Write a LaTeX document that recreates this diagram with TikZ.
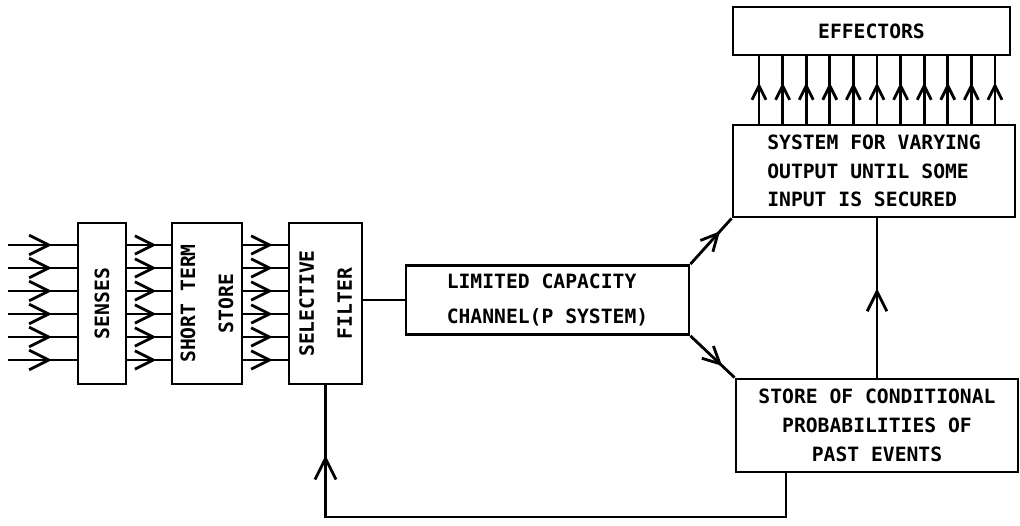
\documentclass[tikz,border=0pt]{standalone}
\usepackage{fontspec}
\setmonofont{DejaVu Sans Mono}
\usetikzlibrary{arrows.meta,positioning,decorations.markings}

\begin{document}
\begin{tikzpicture}[
    x=0.025cm,
    y=-0.025cm,
    line width=2pt,
    box/.style={draw, inner sep=0pt, align=center,
        font=\ttfamily\bfseries\fontsize{14}{20.5}\selectfont},
    vtxt/.style={rotate=90, inner sep=0pt, align=center,
        font=\ttfamily\bfseries\fontsize{14}{27}\selectfont},
    flow/.style 2 args={postaction={decorate}, decoration={markings,
        mark=at position #1 with {\arrow{Straight Barb[length=#2,width=#2]}}}}
]
\useasboundingbox (0,0) rectangle (1020,526);

% boxes on the left
\node[box, minimum width=1.2cm, minimum height=4.025cm] (senses) at (102,303.5) {};
\node[vtxt] (sensestxt) at (senses.center) {SENSES};
\node[box, minimum width=1.75cm, minimum height=4.025cm] (sts) at (207,303.5) {};
\node[vtxt] (ststxt) at (sts.center) {SHORT TERM\\STORE};
\node[box, minimum width=1.825cm, minimum height=4.025cm] (filter) at (325.5,303.5) {};
\node[vtxt] (filtertxt) at (filter.center) {SELECTIVE\\FILTER};

% channel and right column
\node[box, align=left, minimum width=7.075cm, minimum height=1.725cm,
    font=\ttfamily\bfseries\fontsize{14}{25.5}\selectfont] (lcc) at (547.5,300)
    {LIMITED CAPACITY\\CHANNEL(P SYSTEM)};
\node[box, minimum width=6.925cm, minimum height=1.2cm] (effectors) at (871.5,31) {EFFECTORS};
\node[box, align=left, minimum width=7.05cm, minimum height=2.3cm] (system) at (874,171)
    {SYSTEM FOR VARYING\\OUTPUT UNTIL SOME\\INPUT IS SECURED};
\node[box, minimum width=7.05cm, minimum height=2.325cm] (store) at (877,425.5)
    {STORE OF CONDITIONAL\\PROBABILITIES OF\\PAST EVENTS};

% parallel inputs
\foreach \y [count=\i] in {245,268,291,314,337,360} {
  \coordinate (in\i) at (8,\y);
  \draw[flow={0.64}{14pt}] (in\i) -- (in\i -| senses.west);
  \draw[flow={0.67}{13pt}] (in\i -| senses.east) -- (in\i -| sts.west);
  \draw[flow={0.66}{13pt}] (in\i -| sts.east) -- (in\i -| filter.west);
}

\draw (lcc.west -| filter.east) -- (lcc.west);
\draw[flow={0.72}{12pt}] (lcc.north east) -- (system.south west);
\draw[flow={0.72}{12pt}] (lcc.south east) -- (store.north west);

% outputs to effectors
\foreach \i in {0,...,10} {
  \coordinate (out\i) at (759+23.6*\i,0);
  \draw[flow={0.61}{10pt}] (out\i |- system.north) -- (out\i |- effectors.south);
}

\draw[flow={0.56}{14pt}] (store.north) -- (store.north |- system.south);

% feedback to filter
\coordinate (fb) at (786,517);
\draw[flow={0.89}{15pt}] (fb |- store.south) -- (fb) -- (fb -| filter.south) -- (filter.south);
\end{tikzpicture}
\end{document}
